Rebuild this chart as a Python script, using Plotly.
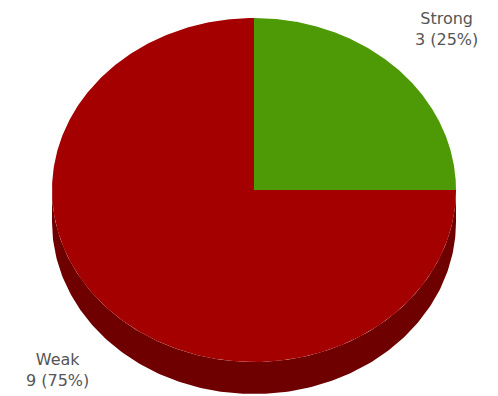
import numpy as np
import plotly.graph_objects as go

categories = ["Strong", "Weak"]
values = [3, 9]
colors = ["#4e9a06", "#a40000"]
side_color = "#6e0000"

W, H = 498, 396
cx, cy, rx, ry, depth = 254, 190, 202, 172, 32

total = sum(values)
fig = go.Figure()

def ex(t):
    return cx + rx * np.sin(t)

def ey(t):
    return cy - ry * np.cos(t)

# side (front half of the pie, visible depth)
start = 0.0
for cat, v, col in zip(categories, values, colors):
    a0 = start / total * 2 * np.pi
    a1 = (start + v) / total * 2 * np.pi
    start += v
    lo, hi = max(a0, np.pi / 2), min(a1, 3 * np.pi / 2)
    if hi > lo:
        t = np.linspace(lo, hi, 200)
        xs = np.concatenate([ex(t), ex(t[::-1])])
        ys = np.concatenate([ey(t), ey(t[::-1]) + depth])
        fig.add_trace(go.Scatter(x=xs, y=ys, fill="toself", mode="lines",
                                 line=dict(width=0), fillcolor=side_color,
                                 hoverinfo="skip", showlegend=False))

# top faces
start = 0.0
for cat, v, col in zip(categories, values, colors):
    a0 = start / total * 2 * np.pi
    a1 = (start + v) / total * 2 * np.pi
    start += v
    t = np.linspace(a0, a1, 400)
    xs = np.concatenate([[cx], ex(t), [cx]])
    ys = np.concatenate([[cy], ey(t), [cy]])
    fig.add_trace(go.Scatter(x=xs, y=ys, fill="toself", mode="lines",
                             line=dict(width=0), fillcolor=col,
                             name=cat, hoverinfo="name", showlegend=False))

label_pos = {"Strong": (446, 29), "Weak": (57, 370)}
for cat, v in zip(categories, values):
    pct = round(v / total * 100)
    x, y = label_pos[cat]
    fig.add_annotation(x=x, y=y, xref="x", yref="y", showarrow=False,
                       text=f"{cat}<br>{v} ({pct}%)", align="center",
                       font=dict(family="DejaVu Sans", size=16, color="#555555"))

fig.update_xaxes(range=[0, W], visible=False, fixedrange=True)
fig.update_yaxes(range=[H, 0], visible=False, fixedrange=True)
fig.update_layout(width=W, height=H, margin=dict(l=0, r=0, t=0, b=0),
                  paper_bgcolor="white", plot_bgcolor="white")
fig.write_html("out.html", config={"displayModeBar": False},
               post_script="document.body.style.margin='0';")
